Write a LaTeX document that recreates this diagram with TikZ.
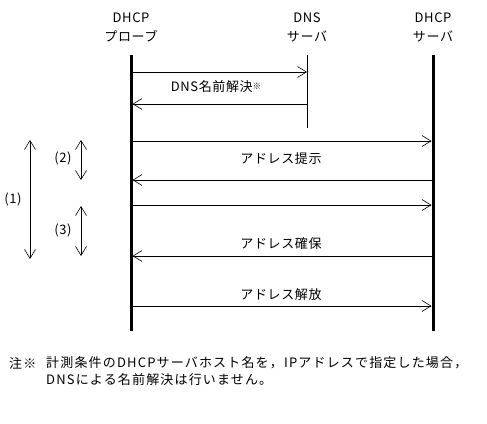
\documentclass[tikz,border=0pt]{standalone}
\usepackage{fontspec}
\setmainfont[LetterSpace=5]{Noto Sans CJK JP}
\usetikzlibrary{arrows.meta}
\begin{document}
\begin{tikzpicture}[x=1pt,y=-1pt,
  lbl/.style={font=\fontsize{13}{15}\selectfont, inner sep=0pt},
  notelbl/.style={font=\fontsize{13}{15}\selectfont\addfontfeature{LetterSpace=9}, inner sep=0pt, anchor=west},
  msg/.style={line width=0.8pt,-{Straight Barb[length=9pt,width=11pt,line width=0.6pt]}},
  rng/.style={line width=0.8pt,{Straight Barb[length=9pt,width=11pt,line width=0.6pt]}-{Straight Barb[length=9pt,width=11pt,line width=0.6pt]}},
  thick life/.style={line width=3pt},
  thin life/.style={line width=1pt}]
\useasboundingbox (0,0) rectangle (487,423);
% headers
\node[lbl] (h1a) at (131,18) {DHCP};
\node[lbl] (h1b) at (131,36) {プローブ};
\node[lbl] (h2a) at (307,18) {DNS};
\node[lbl] (h2b) at (307,36) {サーバ};
\node[lbl] (h3a) at (433,18) {DHCP};
\node[lbl] (h3b) at (433,36) {サーバ};
% lifelines
\coordinate (pT) at (131,55); \coordinate (pB) at (131,331);
\coordinate (dT) at (307,55); \coordinate (dB) at (307,128);
\coordinate (sT) at (433,55); \coordinate (sB) at (433,331);
\draw[thick life] (pT) -- (pB);
\draw[thin life] (dT) -- (dB);
\draw[thick life] (sT) -- (sB);
% messages
\coordinate (p1) at (132.5,72); \coordinate (d1) at (307,72);
\coordinate (d2) at (307,104); \coordinate (p2) at (132.5,104);
\coordinate (p3) at (132.5,141); \coordinate (s3) at (431.5,141);
\coordinate (s4) at (431.5,180); \coordinate (p4) at (132.5,180);
\coordinate (p5) at (132.5,205); \coordinate (s5) at (431.5,205);
\coordinate (s6) at (431.5,256); \coordinate (p6) at (132.5,256);
\coordinate (p7) at (132.5,306); \coordinate (s7) at (431.5,306);
\draw[msg] (p1) -- (d1);
\draw[msg] (d2) -- (p2);
\draw[msg] (p3) -- (s3);
\draw[msg] (s4) -- (p4);
\draw[msg] (p5) -- (s5);
\draw[msg] (s6) -- (p6);
\draw[msg] (p7) -- (s7);
\node[lbl] (m1) at (216,87) {DNS名前解決\raisebox{2.5pt}{\fontsize{8.5}{9}\selectfont ※}};
\node[lbl] (m2) at (281,159) {アドレス提示};
\node[lbl] (m3) at (281,244) {アドレス確保};
\node[lbl] (m4) at (281,295) {アドレス解放};
% ranges
\coordinate (r1t) at (30,140); \coordinate (r1b) at (30,259);
\coordinate (r2t) at (81,140); \coordinate (r2b) at (81,180);
\coordinate (r3t) at (81,206); \coordinate (r3b) at (81,256);
\draw[rng] (r1t) -- (r1b);
\draw[rng] (r2t) -- (r2b);
\draw[rng] (r3t) -- (r3b);
\node[lbl] (n1) at (13,199) {(1)};
\node[lbl] (n2) at (63,158) {(2)};
\node[lbl] (n3) at (63,230) {(3)};
% note
\node[notelbl] (note0) at (9,363) {注※};
\node[notelbl] (note1) at (46,363) {計測条件のDHCPサーバホスト名を，IPアドレスで指定した場合，};
\node[notelbl] (note2) at (46,380) {DNSによる名前解決は行いません。};
\end{tikzpicture}
\end{document}
